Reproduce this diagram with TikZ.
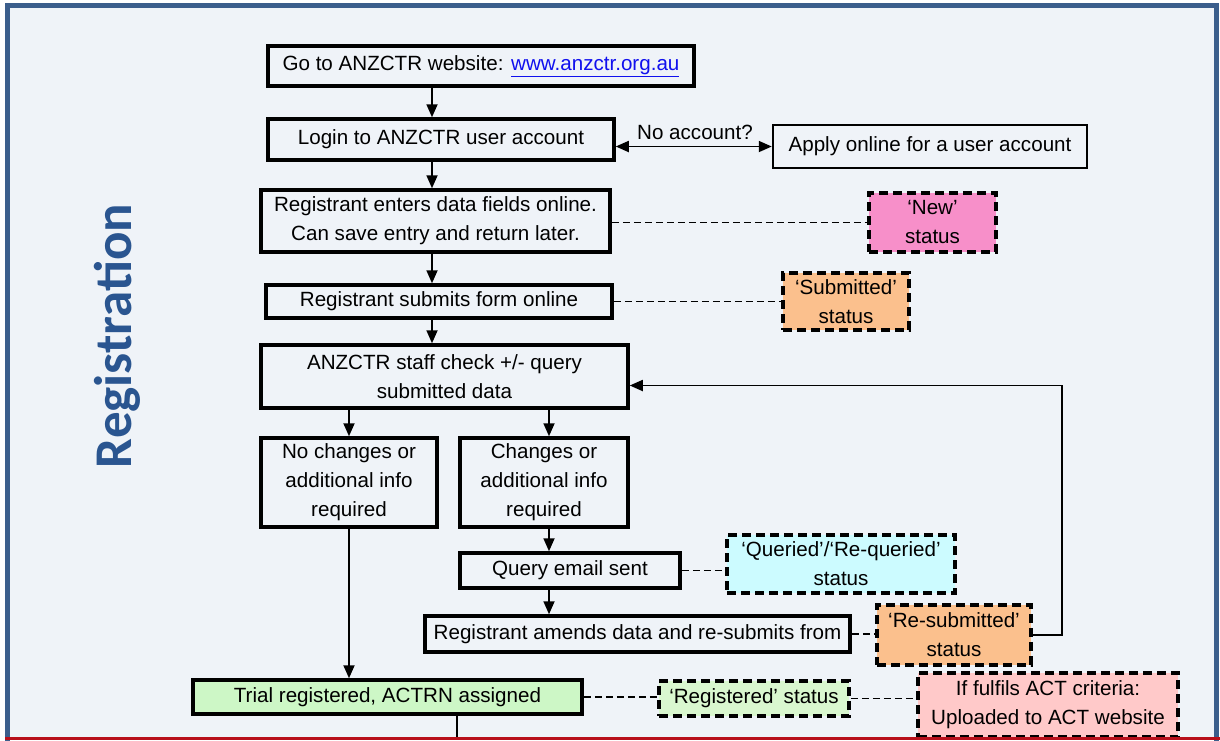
\documentclass[tikz,border=0pt]{standalone}
\usepackage{fontspec}
\setmainfont{Liberation Sans}
\newfontfamily\regfont{Carlito}
\usetikzlibrary{arrows.meta}
\definecolor{bgc}{HTML}{EFF3F8}
\definecolor{framec}{HTML}{3B5E8C}
\definecolor{titlec}{HTML}{2A5590}
\definecolor{pinkc}{HTML}{F78FC9}
\definecolor{orangec}{HTML}{FBC08D}
\definecolor{cyanc}{HTML}{CCFBFF}
\definecolor{greenc}{HTML}{CDF7C6}
\definecolor{greenlc}{HTML}{D9F7CF}
\definecolor{actc}{HTML}{FFC9C9}
\definecolor{linkc}{HTML}{1010EE}
\definecolor{redc}{HTML}{B8101A}
\tikzset{
  box/.style={draw=black, line width=3.5pt, fill=bgc, align=center, inner sep=0pt,
    font=\fontsize{20.6}{29}\selectfont},
  thinbox/.style={box, line width=2.5pt},
  statbox/.style={box, dash pattern=on 9pt off 5pt, line width=3.5pt},
  arr/.style={draw=black, line width=1.8pt, -{Triangle[length=13pt,width=11pt]}},
  darr/.style={draw=black, line width=1.8pt, {Triangle[length=13pt,width=11pt]}-{Triangle[length=13pt,width=11pt]}},
  plain/.style={draw=black, line width=1.8pt},
  dline/.style={draw=black, line width=1.6pt, dash pattern=on 7pt off 4pt},
}
\begin{document}
\begin{tikzpicture}[x=1pt,y=-1pt]
\useasboundingbox (0,0) rectangle (1220,740);
\fill[white] (0,0) rectangle (1220,740);
\fill[bgc] (7,5) rectangle (1217,740);
\draw[framec, line width=5pt] (7.5,745) -- (7.5,5.5) -- (1216.5,5.5) -- (1216.5,745);
\node[rotate=90, text=titlec, font=\regfont\fontsize{53}{53}\bfseries\selectfont] (title) at (117,336) {Registration};

\node[box, minimum width=426pt, minimum height=40pt] (go) at (481,66) {Go to ANZCTR website: \textcolor{linkc}{\underline{www.anzctr.org.au}}};
\node[box, minimum width=346pt, minimum height=41pt] (login) at (441,139.5) {Login to ANZCTR user account};
\node[thinbox, minimum width=314pt, minimum height=43pt] (apply) at (930,146.5) {Apply online for a user account};
\node[box, minimum width=349pt, minimum height=62pt] (enter) at (435.5,221) {Registrant enters data fields online.\\Can save entry and return later.};
\node[statbox, fill=pinkc, minimum width=127pt, minimum height=59pt] (new) at (932.5,222.5) {`New'\\status};
\node[box, minimum width=346pt, minimum height=33pt] (submit) at (439,301.5) {Registrant submits form online};
\node[statbox, fill=orangec, minimum width=126pt, minimum height=57pt] (submitted) at (846,301.5) {`Submitted'\\status};
\node[box, minimum width=367pt, minimum height=63pt] (check) at (444.5,376.5) {ANZCTR staff check +/- query\\submitted data};
\node[box, minimum width=176pt, minimum height=89pt] (noch) at (349,482.5) {No changes or\\additional info\\required};
\node[box, minimum width=168pt, minimum height=89pt] (ch) at (544,482.5) {Changes or\\additional info\\required};
\node[box, minimum width=220pt, minimum height=35pt] (query) at (570,570.5) {Query email sent};
\node[statbox, fill=cyanc, minimum width=228pt, minimum height=58pt] (queried) at (841,564) {`Queried'/`Re-queried'\\status};
\node[box, minimum width=425pt, minimum height=36pt] (amend) at (637.5,634) {Registrant amends data and re-submits from};
\node[statbox, fill=orangec, minimum width=154pt, minimum height=60pt] (resub) at (954,635) {`Re-submitted'\\status};
\node[box, fill=greenc, minimum width=389pt, minimum height=34pt] (trial) at (387.5,697) {Trial registered, ACTRN assigned};
\node[statbox, fill=greenlc, minimum width=190pt, minimum height=35pt] (reg) at (754,698.5) {`Registered' status};
\node[statbox, fill=actc, minimum width=260pt, minimum height=64pt] (act) at (1048,705) {If fulfils ACT criteria:\\Uploaded to ACT website};

\node[font=\fontsize{20.6}{24}\selectfont, inner sep=0pt] (noacc) at (695,132) {No account?};

\coordinate (spine) at (432,0);
\coordinate (tend) at (457,740);

\draw[arr] (go.south -| spine) -- (login.north -| spine);
\draw[arr] (login.south -| spine) -- (enter.north -| spine);
\draw[arr] (enter.south -| spine) -- (submit.north -| spine);
\draw[arr] (submit.south -| spine) -- (check.north -| spine);
\draw[darr] (login.east |- apply.west) -- (apply.west);
\draw[dline] (enter.east |- new.west) -- (new.west);
\draw[dline] (submit.east) -- (submit.east -| submitted.west);
\draw[arr] (check.south -| noch.north) -- (noch.north);
\draw[arr] ([xshift=5pt]check.south -| ch.north) -- ([xshift=5pt]ch.north);
\draw[arr] ([xshift=5pt]ch.south) -- ([xshift=5pt]ch.south |- query.north);
\draw[arr] ([xshift=5pt]ch.south |- query.south) -- ([xshift=5pt]ch.south |- amend.north);
\draw[dline] (query.east) -- (query.east -| queried.west);
\draw[dline] (amend.east) -- (amend.east -| resub.west);
\draw[arr] (resub.east) -- ++(29,0) |- ([yshift=-9pt]check.east);
\draw[arr] (noch.south) -- (noch.south |- trial.north);
\draw[dline] (trial.east) -- (trial.east -| reg.west);
\draw[dline] (reg.east) -- (reg.east -| act.west);
\draw[plain] (trial.south -| tend) -- (tend);
\fill[redc] (5,737) rectangle (1220,740);
\end{tikzpicture}
\end{document}
